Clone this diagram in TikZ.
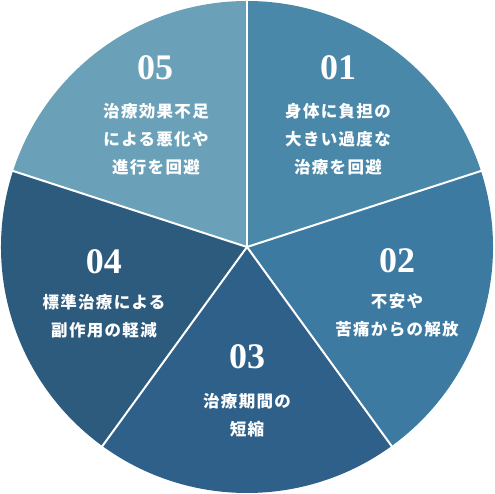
\documentclass[tikz,border=0pt]{standalone}
\usepackage{fontspec}
\setmainfont{Liberation Serif}
\newfontfamily\jpfont[LetterSpace=8]{Noto Sans CJK JP}
\usetikzlibrary{positioning}

\definecolor{pieA}{HTML}{4A88AA}
\definecolor{pieB}{HTML}{3D7AA2}
\definecolor{pieC}{HTML}{2F6089}
\definecolor{pieD}{HTML}{2C5B7E}
\definecolor{pieE}{HTML}{6AA1B9}

\begin{document}
\begin{tikzpicture}[x=1pt,y=1pt]
   \tikzstyle{slice}=[draw=white,line width=2pt,line join=round]
   \tikzstyle{num}=[text=white,font=\bfseries\fontsize{36}{36}\selectfont,inner sep=0pt]
   \tikzstyle{lbl}=[text=white,align=center,inner sep=0pt,
      font=\jpfont\bfseries\fontsize{16.5}{28}\selectfont]

   \useasboundingbox (-247,-247) rectangle (247,247) ;
   \coordinate (c) at (0,0) ;

   \fill [pieA] (c) -- (90:246) arc (90:18:246) -- cycle ;
   \fill [pieB] (c) -- (18:246) arc (18:-54:246) -- cycle ;
   \fill [pieC] (c) -- (-54:246) arc (-54:-126:246) -- cycle ;
   \fill [pieD] (c) -- (-126:246) arc (-126:-198:246) -- cycle ;
   \fill [pieE] (c) -- (162:246) arc (162:90:246) -- cycle ;
   \draw [slice] (c) -- (90:248) ;
   \draw [slice] (c) -- (18:248) ;
   \draw [slice] (c) -- (-54:248) ;
   \draw [slice] (c) -- (-126:248) ;
   \draw [slice] (c) -- (162:248) ;

   \node (n1) [num] at (91,179) {01} ;
   \node (t1) [lbl] at (91,108) {身体に負担の\\大きい過度な\\治療を回避} ;
   \node (n2) [num] at (150,-14) {02} ;
   \node (t2) [lbl] at (150,-68) {不安や\\苦痛からの解放} ;
   \node (n3) [num] at (0,-110) {03} ;
   \node (t3) [lbl] at (0,-168) {治療期間の\\短縮} ;
   \node (n4) [num] at (-143,-15) {04} ;
   \node (t4) [lbl] at (-143,-69) {標準治療による\\副作用の軽減} ;
   \node (n5) [num] at (-92,179) {05} ;
   \node (t5) [lbl] at (-91,108) {治療効果不足\\による悪化や\\進行を回避} ;
\end{tikzpicture}
\end{document}
